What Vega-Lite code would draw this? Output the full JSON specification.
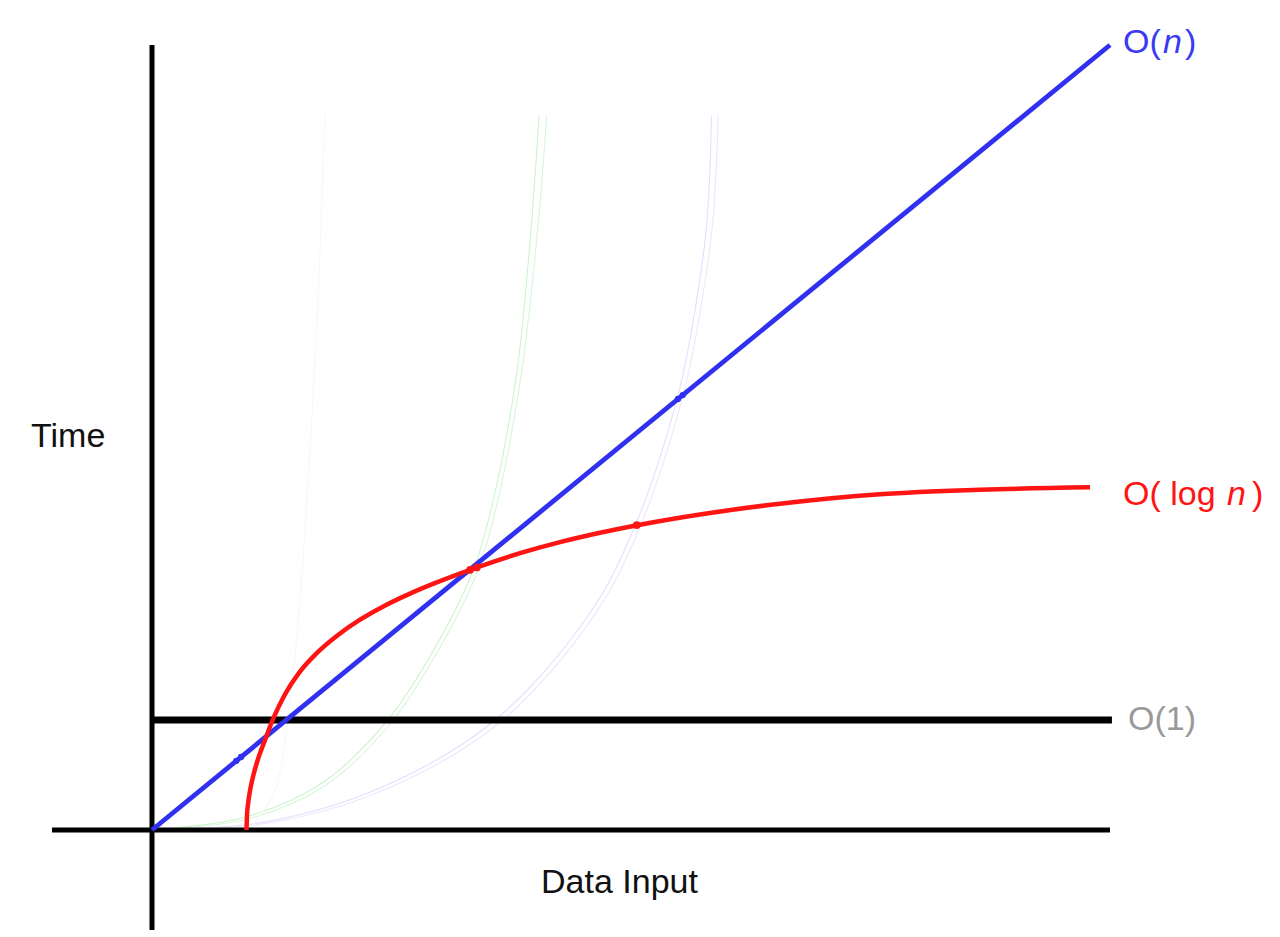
{
  "$schema": "https://vega.github.io/schema/vega-lite/v6.json",
  "width": 1280,
  "height": 937,
  "autosize": {"type": "fit", "contains": "padding"},
  "padding": 0,
  "background": "white",
  "config": {"view": {"stroke": null}},
  "datasets": {
    "axes": [
      {"name": "yaxis", "x1": 0, "x2": 0, "y1": -1.274, "y2": 10.0},
      {"name": "xaxis", "x1": -1.044, "x2": 10.0, "y1": 0, "y2": 0}
    ],
    "const": [
      {"name": "O(1)", "x1": 0, "x2": 10.02, "y1": 1.401, "y2": 1.401}
    ],
    "linear": [
      {"x": 0, "y": 0},
      {"x": 10.0, "y": 10.0}
    ],
    "log": [
      {"x": 0.9864, "y": 0.0},
      {"x": 0.9916, "y": 0.1885},
      {"x": 1.0021, "y": 0.3261},
      {"x": 1.023, "y": 0.4981},
      {"x": 1.0543, "y": 0.679},
      {"x": 1.1065, "y": 0.9032},
      {"x": 1.1795, "y": 1.1452},
      {"x": 1.2662, "y": 1.4204},
      {"x": 1.3706, "y": 1.6879},
      {"x": 1.5449, "y": 2.0178},
      {"x": 1.7192, "y": 2.2522},
      {"x": 1.928, "y": 2.4713},
      {"x": 2.1712, "y": 2.679},
      {"x": 2.4144, "y": 2.8484},
      {"x": 2.6931, "y": 3.0115},
      {"x": 2.9718, "y": 3.1541},
      {"x": 3.2495, "y": 3.2828},
      {"x": 3.3894, "y": 3.3439},
      {"x": 3.8413, "y": 3.5261},
      {"x": 4.2589, "y": 3.6675},
      {"x": 4.6764, "y": 3.7873},
      {"x": 5.0939, "y": 3.8892},
      {"x": 5.7203, "y": 4.0191},
      {"x": 6.5553, "y": 4.1567},
      {"x": 7.5992, "y": 4.2777},
      {"x": 8.643, "y": 4.335},
      {"x": 9.7912, "y": 4.3656}
    ],
    "faint": [
      {"curve": "g1", "x": 0, "y": 0},
      {"curve": "g1", "x": 0.978, "y": 0.166},
      {"curve": "g1", "x": 1.775, "y": 0.599},
      {"curve": "g1", "x": 2.453, "y": 1.389},
      {"curve": "g1", "x": 3.017, "y": 2.459},
      {"curve": "g1", "x": 3.366, "y": 3.35},
      {"curve": "g1", "x": 3.57, "y": 4.242},
      {"curve": "g1", "x": 3.81, "y": 5.847},
      {"curve": "g1", "x": 3.96, "y": 7.707},
      {"curve": "g1", "x": 4.04, "y": 9.1},
      {"curve": "g2", "x": 0, "y": 0},
      {"curve": "g2", "x": 1.0, "y": 0.14},
      {"curve": "g2", "x": 1.8, "y": 0.56},
      {"curve": "g2", "x": 2.49, "y": 1.36},
      {"curve": "g2", "x": 3.05, "y": 2.42},
      {"curve": "g2", "x": 3.4, "y": 3.3},
      {"curve": "g2", "x": 3.61, "y": 4.2},
      {"curve": "g2", "x": 3.86, "y": 5.85},
      {"curve": "g2", "x": 4.03, "y": 7.7},
      {"curve": "g2", "x": 4.12, "y": 9.1},
      {"curve": "p1", "x": 0, "y": 0},
      {"curve": "p1", "x": 1.18, "y": 0.102},
      {"curve": "p1", "x": 2.38, "y": 0.535},
      {"curve": "p1", "x": 3.57, "y": 1.389},
      {"curve": "p1", "x": 4.572, "y": 2.764},
      {"curve": "p1", "x": 5.052, "y": 3.904},
      {"curve": "p1", "x": 5.491, "y": 5.541},
      {"curve": "p1", "x": 5.647, "y": 6.471},
      {"curve": "p1", "x": 5.79, "y": 7.707},
      {"curve": "p1", "x": 5.84, "y": 9.1},
      {"curve": "p2", "x": 0, "y": 0},
      {"curve": "p2", "x": 1.22, "y": 0.09},
      {"curve": "p2", "x": 2.42, "y": 0.51},
      {"curve": "p2", "x": 3.62, "y": 1.36},
      {"curve": "p2", "x": 4.62, "y": 2.74},
      {"curve": "p2", "x": 5.1, "y": 3.88},
      {"curve": "p2", "x": 5.54, "y": 5.52},
      {"curve": "p2", "x": 5.7, "y": 6.45},
      {"curve": "p2", "x": 5.85, "y": 7.7},
      {"curve": "p2", "x": 5.91, "y": 9.1},
      {"curve": "c1", "x": 1.023, "y": 0.013},
      {"curve": "c1", "x": 1.284, "y": 0.51},
      {"curve": "c1", "x": 1.441, "y": 1.656},
      {"curve": "c1", "x": 1.545, "y": 2.93},
      {"curve": "c1", "x": 1.649, "y": 4.841},
      {"curve": "c1", "x": 1.733, "y": 6.752},
      {"curve": "c1", "x": 1.806, "y": 9.134}
    ],
    "bluedots": [
      {"x": 0.88, "y": 0.88},
      {"x": 0.93, "y": 0.93},
      {"x": 5.49, "y": 5.49},
      {"x": 5.54, "y": 5.54}
    ],
    "reddots": [
      {"x": 3.32, "y": 3.315},
      {"x": 3.39, "y": 3.344},
      {"x": 5.06, "y": 3.885}
    ],
    "labels": [
      {"text": "Time", "x": -1.263, "y": 4.879},
      {"text": "Data Input", "x": 4.061, "y": -0.803}
    ],
    "gray": [
      {"text": "O(1)", "x": 10.188, "y": 1.274}
    ],
    "blueText": [
      {"text": "O(", "x": 10.136, "y": 9.898},
      {"text": ")", "x": 10.783, "y": 9.898}
    ],
    "blueItalic": [
      {"text": "n", "x": 10.553, "y": 9.898}
    ],
    "redText": [
      {"text": "O( log", "x": 10.136, "y": 4.14},
      {"text": ")", "x": 11.482, "y": 4.14}
    ],
    "redItalic": [
      {"text": "n", "x": 11.221, "y": 4.14}
    ]
  },
  "resolve": {"scale": {"color": "independent"}},
  "layer": [
    {
      "data": {"name": "faint"},
      "mark": {"type": "line", "strokeWidth": 1.1, "interpolate": "catmull-rom"},
      "encoding": {
        "x": {"field": "x", "type": "quantitative", "scale": {"domain": [-1.5866, 11.7745], "nice": false, "zero": false}, "axis": null},
        "y": {"field": "y", "type": "quantitative", "scale": {"domain": [-1.3631, 10.5732], "nice": false, "zero": false}, "axis": null},
        "detail": {"field": "curve"},
        "color": {"field": "curve", "type": "nominal", "legend": null,
          "scale": {"domain": ["g1", "g2", "p1", "p2", "c1"], "range": ["#cdf3cd", "#d8f6d8", "#e8dcfc", "#efe6fd", "#f1f9fb"]}}
      }
    },
    {
      "data": {"name": "axes"},
      "mark": {"type": "rule", "strokeWidth": 5, "color": "black"},
      "encoding": {
        "x": {"field": "x1", "type": "quantitative"},
        "x2": {"field": "x2"},
        "y": {"field": "y1", "type": "quantitative"},
        "y2": {"field": "y2"}
      }
    },
    {
      "data": {"name": "const"},
      "mark": {"type": "rule", "strokeWidth": 7, "color": "black"},
      "encoding": {
        "x": {"field": "x1", "type": "quantitative"},
        "x2": {"field": "x2"},
        "y": {"field": "y1", "type": "quantitative"},
        "y2": {"field": "y2"}
      }
    },
    {
      "data": {"name": "linear"},
      "mark": {"type": "line", "strokeWidth": 4.8, "color": "#3030f0"},
      "encoding": {
        "x": {"field": "x", "type": "quantitative"},
        "y": {"field": "y", "type": "quantitative"}
      }
    },
    {
      "data": {"name": "log"},
      "mark": {"type": "line", "strokeWidth": 4.5, "color": "#ff1414", "interpolate": "monotone"},
      "encoding": {
        "x": {"field": "x", "type": "quantitative"},
        "y": {"field": "y", "type": "quantitative"}
      }
    },
    {
      "data": {"name": "bluedots"},
      "mark": {"type": "circle", "size": 40, "color": "#3030f0", "opacity": 1},
      "encoding": {
        "x": {"field": "x", "type": "quantitative"},
        "y": {"field": "y", "type": "quantitative"}
      }
    },
    {
      "data": {"name": "reddots"},
      "mark": {"type": "circle", "size": 60, "color": "#ff1414", "opacity": 1},
      "encoding": {
        "x": {"field": "x", "type": "quantitative"},
        "y": {"field": "y", "type": "quantitative"}
      }
    },
    {
      "data": {"name": "labels"},
      "mark": {"type": "text", "align": "left", "baseline": "alphabetic", "font": "Liberation Sans", "fontSize": 34, "color": "#111111"},
      "encoding": {
        "x": {"field": "x", "type": "quantitative"},
        "y": {"field": "y", "type": "quantitative"},
        "text": {"field": "text"}
      }
    },
    {
      "data": {"name": "gray"},
      "mark": {"type": "text", "align": "left", "baseline": "alphabetic", "font": "Liberation Sans", "fontSize": 34, "color": "#999999"},
      "encoding": {
        "x": {"field": "x", "type": "quantitative"},
        "y": {"field": "y", "type": "quantitative"},
        "text": {"field": "text"}
      }
    },
    {
      "data": {"name": "blueText"},
      "mark": {"type": "text", "align": "left", "baseline": "alphabetic", "font": "Liberation Sans", "fontSize": 34, "color": "#3a3af5"},
      "encoding": {
        "x": {"field": "x", "type": "quantitative"},
        "y": {"field": "y", "type": "quantitative"},
        "text": {"field": "text"}
      }
    },
    {
      "data": {"name": "blueItalic"},
      "mark": {"type": "text", "align": "left", "baseline": "alphabetic", "font": "Liberation Sans", "fontSize": 34, "fontStyle": "italic", "color": "#3a3af5"},
      "encoding": {
        "x": {"field": "x", "type": "quantitative"},
        "y": {"field": "y", "type": "quantitative"},
        "text": {"field": "text"}
      }
    },
    {
      "data": {"name": "redText"},
      "mark": {"type": "text", "align": "left", "baseline": "alphabetic", "font": "Liberation Sans", "fontSize": 34, "color": "#ff1414"},
      "encoding": {
        "x": {"field": "x", "type": "quantitative"},
        "y": {"field": "y", "type": "quantitative"},
        "text": {"field": "text"}
      }
    },
    {
      "data": {"name": "redItalic"},
      "mark": {"type": "text", "align": "left", "baseline": "alphabetic", "font": "Liberation Sans", "fontSize": 34, "fontStyle": "italic", "color": "#ff1414"},
      "encoding": {
        "x": {"field": "x", "type": "quantitative"},
        "y": {"field": "y", "type": "quantitative"},
        "text": {"field": "text"}
      }
    }
  ]
}
